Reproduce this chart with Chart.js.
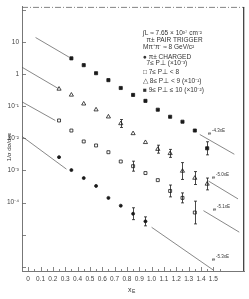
<!DOCTYPE html>
<html>
<head>
<meta charset="utf-8">
<script src="https://cdn.jsdelivr.net/npm/chart.js@4.4.0/dist/chart.umd.min.js"></script>
<style>
  body { margin: 0; background: #fff; }
  canvas { display: block; }
</style>
</head>
<body>
<canvas id="chart" width="249" height="299"></canvas>
<script>
// filled squares, 9 <= P_T <= 10
const xSq = [0.35, 0.45, 0.55, 0.65, 0.75, 0.85, 0.95, 1.05, 1.15, 1.25, 1.35, 1.45];
const ySq = [3.1, 1.9, 1.07, 0.65, 0.37, 0.225, 0.147, 0.078, 0.047, 0.033, 0.0175, 0.0049];
const eSq = [null, null, null, null, null, null, null, null, null, null, null, 1.6];

// open triangles, 8 <= P_T < 9
const xTri = [0.25, 0.35, 0.45, 0.55, 0.65, 0.75, 0.85, 0.95, 1.05, 1.15, 1.25, 1.35, 1.45];
const yTri = [0.345, 0.225, 0.119, 0.078, 0.047, 0.029, 0.0142, 0.0075, 0.0046, 0.0034, 0.00096, 0.00058, 0.00038];
const eTri = [null, null, null, null, null, 1.33, null, null, 1.33, 1.33, 1.83, 1.59, 1.53];

// open squares, 7 <= P_T < 8
const xOpen = [0.25, 0.35, 0.45, 0.55, 0.65, 0.75, 0.85, 0.95, 1.05, 1.15, 1.25, 1.35];
const yOpen = [0.036, 0.0175, 0.008, 0.006, 0.0037, 0.0019, 0.00136, 0.00083, 0.0005, 0.00023, 0.00014, 0.000049];
const eOpen = [null, null, null, null, null, null, 1.43, null, null, 1.53, 1.43, 2.26];

// filled circles, charged
const xDot = [0.25, 0.35, 0.45, 0.55, 0.65, 0.75, 0.85, 0.95];
const yDot = [0.0026, 0.00103, 0.00058, 0.00033, 0.00014, 0.00008, 0.000045, 0.000026];
const eDot = [null, null, null, null, null, null, 1.53, 1.38];

// straight lines drawn on the figure
const lowFitX = [[0.06, 0.33], [-0.05, 0.25], [-0.05, 0.22], [-0.05, 0.31]];
const lowFitY = [[13.8, 3.4], [1.64, 0.345], [0.137, 0.036], [0.0115, 0.0011]];
const highFitX = [[1.39, 1.67], [1.46, 1.70], [1.42, 1.71], [1.00, 1.50]];
const highFitY = [[0.0132, 0.0032], [0.00047, 0.00013], [0.000056, 0.000012], [0.000017, 0.00000079]];
const highFitText = ['-4.3x', '-5.0x', '-5.1x', '-5.3x'];

const xTicks = [0, 0.1, 0.2, 0.3, 0.4, 0.5, 0.6, 0.7, 0.8, 0.9, 1.0, 1.1, 1.2, 1.3, 1.4, 1.5];
const yTickVals = [100, 10, 1, 0.1, 0.01, 0.001, 0.0001, 0.00001, 0.000001];
const yTickText = ['', '10', '1', '10⁻¹', '10⁻²', '10⁻³', '10⁻⁴', '', ''];

const legendRows = [
    '∫L ≈ 7.65 × 10³⁷ cm⁻²',
    '  π± PAIR TRIGGER',
    'Mπ⁺π⁻ ≈ 8 GeV/c²',
    '● π± CHARGED',
    '  7≤ P⊥ (×10⁻³)',
    '□ 7≤ P⊥ < 8',
    '△ 8≤ P⊥ < 9 (×10⁻¹)',
    '■ 9≤ P⊥ ≤ 10 (×10⁻²)'
];

const FONT = '"Liberation Sans", Arial, sans-serif';
const INK = '#1a1a1a';
const LINE = '#555';

function pts(xs, ys) {
    return xs.map((x, i) => ({ x: x, y: ys[i] }));
}

function series(label, xs, ys, errs, style, filled, radius) {
    return {
        type: 'scatter',
        label: label,
        data: pts(xs, ys),
        errs: errs,
        pointStyle: style,
        pointRadius: radius,
        pointBackgroundColor: filled ? INK : '#fff',
        pointBorderColor: INK,
        pointBorderWidth: 0.8,
        order: 1
    };
}

let datasets = [
    series('sq', xSq, ySq, eSq, 'rect', true, 2.2),
    series('tri', xTri, yTri, eTri, 'triangle', false, 2.4),
    series('open', xOpen, yOpen, eOpen, 'rect', false, 2.1),
    series('dot', xDot, yDot, eDot, 'circle', true, 1.5)
];

lowFitX.concat(highFitX).forEach((xs, i) => {
    const ys = i < lowFitX.length ? lowFitY[i] : highFitY[i - lowFitX.length];
    datasets.push({
        type: 'line',
        data: pts(xs, ys),
        borderColor: LINE,
        borderWidth: 0.7,
        pointRadius: 0,
        fill: false,
        order: 2
    });
});

// error bars, inward ticks, frame and all the loose text
const decorations = {
    id: 'decorations',
    beforeDatasetsDraw(chart) {
        const ctx = chart.ctx;
        const a = chart.chartArea;
        const xs = chart.scales.x, ys = chart.scales.y;
        ctx.save();
        ctx.strokeStyle = '#666';
        ctx.lineWidth = 0.8;
        // top dashed edge and right edge
        ctx.setLineDash([6, 2, 1, 2]);
        ctx.beginPath();
        ctx.moveTo(a.left, a.top + 0.5);
        ctx.lineTo(a.right, a.top + 0.5);
        ctx.stroke();
        ctx.setLineDash([]);
        ctx.strokeStyle = '#333';
        ctx.lineWidth = 1.2;
        ctx.beginPath();
        ctx.moveTo(a.right - 0.5, a.top);
        ctx.lineTo(a.right - 0.5, a.bottom);
        ctx.stroke();
        // inward ticks
        ctx.strokeStyle = '#666';
        ctx.lineWidth = 0.8;
        ctx.beginPath();
        yTickVals.forEach(v => {
            const py = Math.round(ys.getPixelForValue(v)) + 0.5;
            ctx.moveTo(a.left, py);
            ctx.lineTo(a.left + 4, py);
        });
        xTicks.forEach(v => {
            const px = Math.round(xs.getPixelForValue(v)) + 0.5;
            ctx.moveTo(px, a.bottom);
            ctx.lineTo(px, a.bottom - 4);
            const pm = Math.round(xs.getPixelForValue(v + 0.05)) + 0.5;
            ctx.moveTo(pm, a.bottom);
            ctx.lineTo(pm, a.bottom - 2);
        });
        ctx.stroke();
        ctx.restore();
    },
    afterDatasetsDraw(chart) {
        const ctx = chart.ctx;
        const xs = chart.scales.x, ys = chart.scales.y;
        ctx.save();
        ctx.strokeStyle = INK;
        ctx.lineWidth = 0.8;
        chart.data.datasets.forEach(ds => {
            if (!ds.errs) return;
            ds.data.forEach((p, i) => {
                const f = ds.errs[i];
                if (!f) return;
                const px = Math.round(xs.getPixelForValue(p.x)) + 0.5;
                const top = ys.getPixelForValue(p.y * f);
                const bot = ys.getPixelForValue(p.y / f);
                ctx.beginPath();
                ctx.moveTo(px, top);
                ctx.lineTo(px, bot);
                ctx.moveTo(px - 1.5, top);
                ctx.lineTo(px + 1.5, top);
                ctx.moveTo(px - 1.5, bot);
                ctx.lineTo(px + 1.5, bot);
                ctx.stroke();
            });
        });

        ctx.fillStyle = '#333';
        ctx.textBaseline = 'middle';
        ctx.textAlign = 'left';
        // legend block
        ctx.font = '6.5px ' + FONT;
        const rowY = [33, 40, 47, 57, 63, 72, 81, 90];
        legendRows.forEach((t, i) => ctx.fillText(t, 143, rowY[i]));

        // exponent labels next to the right-hand lines
        const labelPos = [[208, 133], [212, 177], [213, 209], [212, 259]];
        highFitText.forEach((t, i) => {
            const [lx, ly] = labelPos[i];
            ctx.font = '6px ' + FONT;
            ctx.fillText('e', lx, ly);
            ctx.font = '4.5px ' + FONT;
            ctx.fillText(t + 'E', lx + 4, ly - 2.5);
        });

        // axis titles
        ctx.font = '7px ' + FONT;
        ctx.fillText('x', 128, 290);
        ctx.font = '5px ' + FONT;
        ctx.fillText('E', 132, 292);
        ctx.translate(9, 147);
        ctx.rotate(-Math.PI / 2);
        ctx.textAlign = 'center';
        ctx.font = '6px ' + FONT;
        ctx.fillText('1/σ dσ/dxᴇ', 0, 0);
        ctx.restore();
    }
};

new Chart(document.getElementById('chart'), {
    data: { datasets: datasets },
    options: {
        responsive: false,
        animation: false,
        layout: { padding: { top: 4, right: 2, left: 0, bottom: 0 } },
        plugins: { legend: { display: false }, tooltip: { enabled: false } },
        scales: {
            x: {
                type: 'linear',
                min: -0.05,
                max: 1.75,
                afterFit(scale) { scale.height = 28; },
                afterBuildTicks(scale) { scale.ticks = xTicks.map(v => ({ value: v })); },
                grid: { display: true, drawOnChartArea: false, drawTicks: false },
                border: { display: true, color: '#777', width: 1 },
                ticks: {
                    autoSkip: false,
                    maxRotation: 0,
                    padding: 4,
                    color: '#444',
                    font: { size: 6.5, family: FONT },
                    callback: v => v === 0 ? '0' : v.toFixed(1)
                }
            },
            y: {
                type: 'logarithmic',
                min: 7.4e-7,
                max: 124,
                afterFit(scale) { scale.width = 22; },
                afterBuildTicks(scale) { scale.ticks = yTickVals.map(v => ({ value: v })); },
                grid: { display: true, drawOnChartArea: false, drawTicks: false },
                border: { display: true, color: '#777', width: 1 },
                ticks: {
                    autoSkip: false,
                    padding: 3,
                    color: '#444',
                    font: { size: 6.5, family: FONT },
                    callback: (v, i) => yTickText[yTickVals.indexOf(v)] || ''
                }
            }
        }
    },
    plugins: [decorations]
});
</script>
</body>
</html>
